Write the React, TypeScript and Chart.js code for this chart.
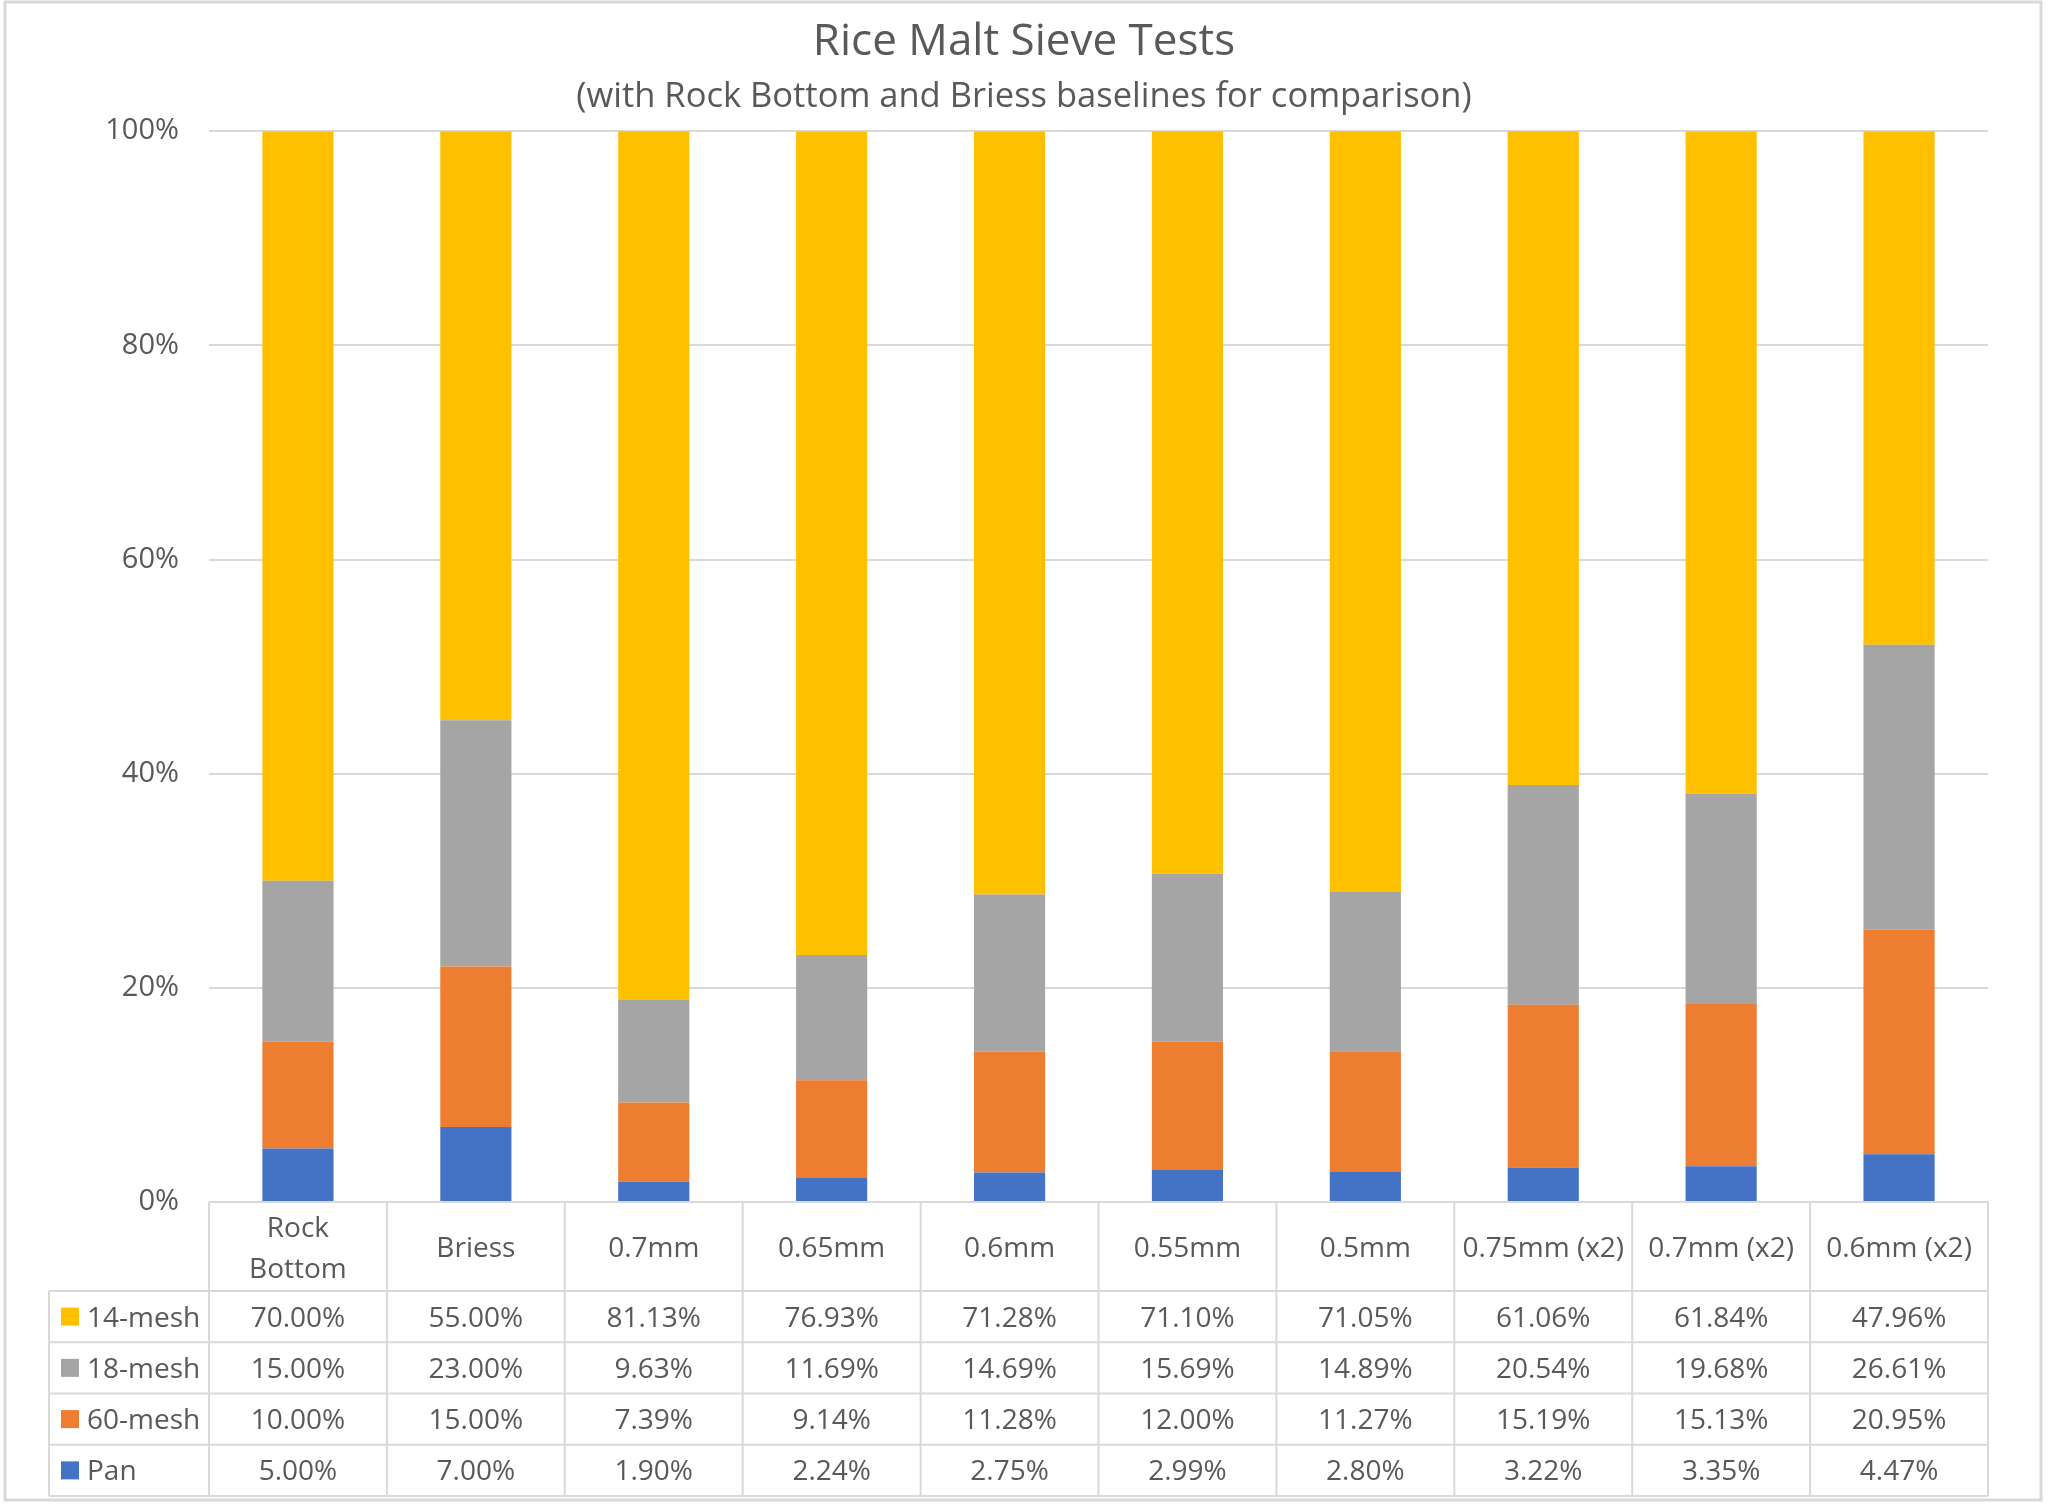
import React, { useEffect, useRef } from 'react';
import { Chart, registerables } from 'chart.js';

Chart.register(...registerables);

// categories (multi-line label as an array, like Excel wrapped it)
const categories: (string | string[])[] = [
  ['Rock', 'Bottom'],
  'Briess',
  '0.7mm',
  '0.65mm',
  '0.6mm',
  '0.55mm',
  '0.5mm',
  '0.75mm (x2)',
  '0.7mm (x2)',
  '0.6mm (x2)',
];

const mesh14 = [70.0, 55.0, 81.13, 76.93, 71.28, 71.1, 71.05, 61.06, 61.84, 47.96];
const mesh18 = [15.0, 23.0, 9.63, 11.69, 14.69, 15.69, 14.89, 20.54, 19.68, 26.61];
const mesh60 = [10.0, 15.0, 7.39, 9.14, 11.28, 12.0, 11.27, 15.19, 15.13, 20.95];
const pan = [5.0, 7.0, 1.9, 2.24, 2.75, 2.99, 2.8, 3.22, 3.35, 4.47];

const FONT = "'Open Sans', sans-serif";
const TEXT = '#595959';
const GRID = '#d9d9d9';

// table rows, top to bottom as in the data table
const rows = [
  { label: '14-mesh', data: mesh14, color: '#FFC000' },
  { label: '18-mesh', data: mesh18, color: '#A5A5A5' },
  { label: '60-mesh', data: mesh60, color: '#ED7D31' },
  { label: 'Pan', data: pan, color: '#4472C4' },
];

const HEADER_H = 89;
const ROW_H = 51.25;
const LEGEND_LEFT = 49;

const tablePlugin = {
  id: 'dataTable',
  afterDraw(chart: any) {
    const { ctx, chartArea } = chart;
    const x = chart.scales.x;
    const n = categories.length;
    const step = x.getPixelForValue(1) - x.getPixelForValue(0);
    const left = x.getPixelForValue(0) - step / 2;
    const right = x.getPixelForValue(n - 1) + step / 2;
    const top = chartArea.bottom;
    const headTop = top + HEADER_H;
    const bottom = headTop + rows.length * ROW_H;

    ctx.save();
    ctx.strokeStyle = GRID;
    ctx.lineWidth = 2;
    ctx.beginPath();
    for (let i = 0; i <= n; i++) {
      const xx = left + i * step;
      ctx.moveTo(xx, top);
      ctx.lineTo(xx, bottom);
    }
    ctx.moveTo(LEGEND_LEFT, headTop);
    ctx.lineTo(LEGEND_LEFT, bottom);
    ctx.moveTo(left, top);
    ctx.lineTo(right, top);
    for (let r = 0; r <= rows.length; r++) {
      const yy = headTop + r * ROW_H;
      ctx.moveTo(LEGEND_LEFT, yy);
      ctx.lineTo(right, yy);
    }
    ctx.stroke();

    // outer chart border
    ctx.lineWidth = 3;
    ctx.strokeRect(5, 2, 2036, 1498);

    ctx.fillStyle = TEXT;
    ctx.font = `28px ${FONT}`;
    ctx.textBaseline = 'middle';
    ctx.textAlign = 'center';

    // header (category names)
    categories.forEach((c, i) => {
      const cx = x.getPixelForValue(i);
      const lines = Array.isArray(c) ? c : [c];
      const lh = 41;
      const y0 = top + HEADER_H / 2 + 3 - ((lines.length - 1) * lh) / 2;
      lines.forEach((l, k) => ctx.fillText(l, cx, y0 + k * lh));
    });

    // value rows with legend keys
    rows.forEach((row, r) => {
      const cy = headTop + r * ROW_H + ROW_H / 2;
      ctx.fillStyle = row.color;
      ctx.fillRect(61, cy - 9, 18, 18);
      ctx.fillStyle = TEXT;
      ctx.textAlign = 'left';
      ctx.fillText(row.label, 87, cy + 2);
      ctx.textAlign = 'center';
      row.data.forEach((v, i) => {
        ctx.fillText(v.toFixed(2) + '%', x.getPixelForValue(i), cy + 2);
      });
    });
    ctx.restore();
  },
};

const App = () => {
  const chartRef = useRef<HTMLCanvasElement>(null);

  useEffect(() => {
    document.body.style.margin = '0';
    if (!chartRef.current) return;

    const myChart = new Chart(chartRef.current, {
      type: 'bar',
      data: {
        labels: categories as any,
        datasets: [
          { label: 'Pan', data: pan, backgroundColor: '#4472C4' },
          { label: '60-mesh', data: mesh60, backgroundColor: '#ED7D31' },
          { label: '18-mesh', data: mesh18, backgroundColor: '#A5A5A5' },
          { label: '14-mesh', data: mesh14, backgroundColor: '#FFC000' },
        ],
      },
      options: {
        animation: false,
        responsive: false,
        devicePixelRatio: 1,
        layout: { padding: { left: 30, right: 30, top: 0, bottom: 304 } },
        datasets: { bar: { barPercentage: 0.4, categoryPercentage: 1 } },
        scales: {
          x: {
            stacked: true,
            grid: { display: false },
            border: { display: false },
            ticks: { display: false },
            afterFit: (scale: any) => {
              scale.height = 0;
            },
          },
          y: {
            stacked: true,
            min: 0,
            max: 100,
            grid: { color: GRID, lineWidth: 2, drawTicks: false },
            border: { display: false },
            ticks: {
              stepSize: 20,
              padding: 30,
              color: TEXT,
              font: { family: FONT, size: 29 },
              callback: (v: any) => v + '%',
            },
            afterFit: (scale: any) => {
              scale.width = 179;
            },
          },
          // empty right-hand axis: keeps the plot narrower while the title stays centred on the canvas
          yRight: {
            position: 'right',
            grid: { display: false },
            border: { display: false },
            ticks: { display: false },
            afterFit: (scale: any) => {
              scale.width = 30;
            },
          },
        },
        plugins: {
          legend: { display: false },
          tooltip: { enabled: false },
          title: {
            display: true,
            text: 'Rice Malt Sieve Tests',
            color: TEXT,
            font: { family: FONT, size: 44, weight: 'normal' },
            padding: { top: 16, bottom: 0 },
          },
          subtitle: {
            display: true,
            text: '(with Rock Bottom and Briess baselines for comparison)',
            color: TEXT,
            font: { family: FONT, size: 34.5, weight: 'normal' },
            padding: { top: 8, bottom: 13 },
          },
        },
      },
      plugins: [tablePlugin],
    });

    return () => {
      myChart.destroy();
    };
  }, []);

  return (
    <div style={{ width: 2048, height: 1506, background: '#fff' }}>
      <canvas ref={chartRef} width={2048} height={1506} style={{ width: 2048, height: 1506 }} />
    </div>
  );
};

export default App;
